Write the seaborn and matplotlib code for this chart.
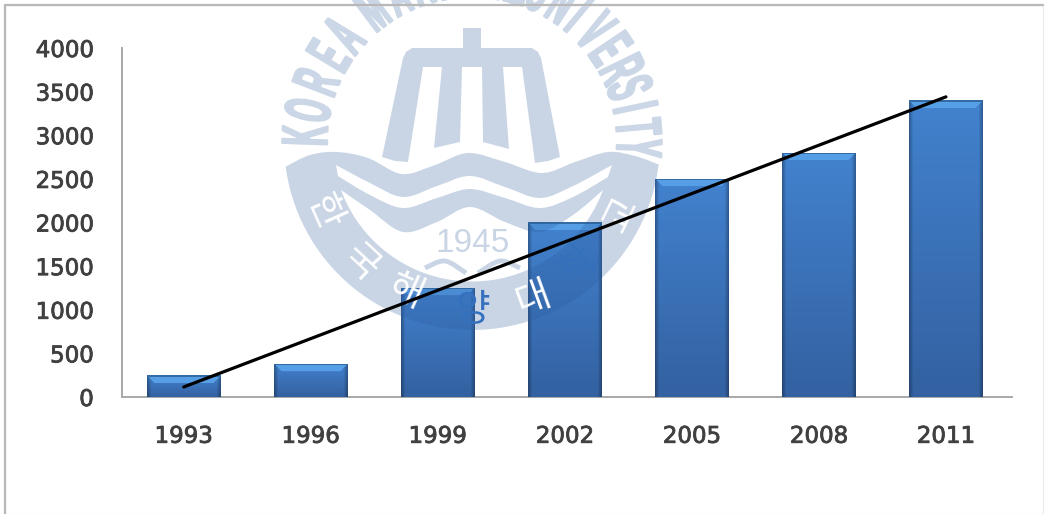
import numpy as np
import matplotlib
matplotlib.use("Agg")
import matplotlib.pyplot as plt
import matplotlib.patheffects as pe
import seaborn as sns
from matplotlib.patches import PathPatch, Rectangle
from matplotlib.path import Path
from matplotlib.transforms import Affine2D

years = ["1993", "1996", "1999", "2002", "2005", "2008", "2011"]
values = [250, 380, 1250, 2005, 2500, 2800, 3400]
y_ticks = [0, 500, 1000, 1500, 2000, 2500, 3000, 3500, 4000]
trend_pos = [0, 6]
trend_val = [115, 3440]

W, H = 1048, 514
LABEL = "#404040"
SEAL = "#2a5a9a"
SEAL_ALPHA = 0.25
SEAL_FLAT = "#cbd6e6"
CX, CY = 472, 142


class Squeeze(pe.AbstractPathEffect):
    # stretches a glyph around its own centre, the seal lettering is tall, narrow and heavy
    def __init__(self, sx, sy, lw):
        super().__init__()
        self.sx, self.sy, self.lw = sx, sy, lw

    def draw_path(self, renderer, gc, tpath, affine, rgbFace=None):
        c = tpath.get_extents().get_points().mean(axis=0)
        t = Affine2D().translate(-c[0], -c[1]).scale(self.sx, self.sy).translate(c[0], c[1])
        gc0 = renderer.new_gc()
        gc0.copy_properties(gc)
        gc0.set_linewidth(self.lw)
        gc0.set_foreground(rgbFace)
        renderer.draw_path(gc0, tpath, t + affine, rgbFace)
        gc0.restore()


def smooth(pts, start=True):
    # catmull-rom through all the points
    p = np.array(pts, dtype=float)
    p = np.vstack([p[0], p, p[-1]])
    verts = [tuple(p[1])]
    codes = [Path.MOVETO if start else Path.LINETO]
    for i in range(1, len(p) - 2):
        verts += [tuple(p[i] + (p[i + 1] - p[i - 1]) / 6), tuple(p[i + 1] - (p[i + 2] - p[i]) / 6), tuple(p[i + 1])]
        codes += [Path.CURVE4] * 3
    return verts, codes


def arc(r, a0, a1, n=60):
    t = np.radians(np.linspace(a0, a1, n))
    return [(CX + r * np.cos(a), CY + r * np.sin(a)) for a in t]


def bar_image(w, h):
    yy, xx = np.mgrid[0:h, 0:w]
    frac = yy[..., None] / max(h - 1, 1)
    top = np.array([0.26, 0.51, 0.81])
    bottom = np.array([0.20, 0.38, 0.63])
    img = top + (bottom - top) * frac
    side = np.minimum(xx, w - 1 - xx)[..., None]
    img = img * (0.72 + 0.28 * np.clip(side / 4, 0, 1))
    bevel = (yy < 8) & (xx >= yy) & (xx < w - yy)
    img[bevel] = np.array([0.34, 0.62, 0.90])
    img[yy < 2] = np.array([0.20, 0.42, 0.65])
    return img


sns.set_theme(style="white")
plt.rcParams["font.family"] = ["DejaVu Sans"]
fig = plt.figure(figsize=(W / 100, H / 100), dpi=100)
ax = fig.add_axes([121.5 / W, (H - 397) / H, (1012 - 121.5) / W, (397 - 48) / H])

sns.barplot(x=years, y=values, color="#3b78c4", width=0.575, saturation=1, ax=ax, zorder=2)
ax.set_xlim(-0.49, 6.52)
ax.set_ylim(0, 4000)

# bevelled fill for every bar, taken from the patches seaborn drew
fig.canvas.draw()
for p in ax.patches:
    x0, y0 = p.get_x(), p.get_y()
    x1, y1 = x0 + p.get_width(), y0 + p.get_height()
    (px0, py0), (px1, py1) = ax.transData.transform([(x0, y0), (x1, y1)])
    im = ax.imshow(bar_image(int(round(px1 - px0)), int(round(py1 - py0))),
                   extent=(x0, x1, y0, y1), aspect="auto", zorder=3)
    im.set_clip_path(p)
ax.set_xlim(-0.49, 6.52)
ax.set_ylim(0, 4000)

ax.plot(trend_pos, trend_val, color="black", lw=2.3, solid_capstyle="round", zorder=6)

ax.set_yticks(y_ticks)
ax.tick_params(axis="both", length=0, labelsize=16.5, labelcolor=LABEL)
ax.tick_params(axis="y", pad=20)
ax.tick_params(axis="x", pad=20)
ax.set_xlabel("")
ax.set_ylabel("")
for lab in ax.get_xticklabels() + ax.get_yticklabels():
    lab.set_path_effects([pe.withStroke(linewidth=0.6, foreground=LABEL)])
for name in ["top", "right"]:
    ax.spines[name].set_visible(False)
for name in ["left", "bottom"]:
    ax.spines[name].set_color("#a8a8a8")
    ax.spines[name].set_linewidth(1.4)

# seal watermark, in picture pixels with y going down
px = Affine2D().scale(1, -1).translate(0, H)

tower = [(463, 28), (481, 28), (481, 48), (532, 48), (538, 52), (541, 58), (560, 157), (548, 161),
         (535, 163), (522, 67), (503, 67), (509, 149), (483, 142), (482, 67), (462, 67), (460, 142),
         (434, 148), (442, 67), (423, 67), (408, 162), (395, 161), (382, 157), (403, 58), (406, 52),
         (412, 48), (463, 48), (463, 28)]
ax.add_patch(PathPatch(Path(tower), fc=SEAL, ec="none", alpha=SEAL_ALPHA, transform=px, clip_on=False, zorder=5))

wave_top = [(285, 167), (310, 155), (337, 152), (368, 158), (402, 174), (435, 165), (468, 153), (505, 162),
            (542, 173), (575, 162), (608, 152), (635, 156), (660, 165)]
white_top = [(336, 165), (370, 183), (403, 197), (437, 186), (470, 176), (505, 187), (540, 198), (573, 186), (612, 165)]
white_low = [(608, 177), (573, 197), (540, 208), (505, 198), (470, 189), (437, 198), (403, 208), (370, 195), (338, 176)]
inner_top = [(341, 190), (370, 210), (403, 232), (437, 222), (470, 207), (505, 222), (540, 232), (573, 215), (603, 190)]

# outline runs one way round, the white holes the other way
verts, codes = smooth(wave_top)
outer = arc(188, 7, 173)
verts += outer
codes += [Path.LINETO] * len(outer)

v, c = smooth(white_top[::-1])
verts += v
codes += c
v, c = smooth(white_low[::-1], start=False)
verts += v
codes += c

v, c = smooth(inner_top[::-1])
verts += v
codes += c
inner = arc(139.5, 160, 20)
verts += inner
codes += [Path.LINETO] * len(inner)
ax.add_patch(PathPatch(Path(verts, codes), fc=SEAL, ec="none", alpha=SEAL_ALPHA, transform=px, clip_on=False, zorder=5))

for book in ([(425, 268), (445, 261), (466, 273)], [(478, 273), (500, 261), (520, 268)]):
    v, c = smooth(book)
    ax.add_patch(PathPatch(Path(v, c), fc="none", ec=SEAL, lw=3.5, alpha=SEAL_ALPHA, transform=px, clip_on=False, zorder=5))

ax.text(473, 244, "1945", transform=px, ha="center", va="center", fontsize=24, family="Liberation Sans",
        color=SEAL, alpha=SEAL_ALPHA, zorder=5, clip_on=False)

name_letters = list("KOREAMARITIMEUNIVERSITY")
name_angles = [178, 169, 159, 149, 140, 127, 117, 108, 101, 94, 88, 80, 73, 66, 57, 50, 42, 34, 26, 19, 12, 5, -2]
for ch, a in zip(name_letters, name_angles):
    t = np.radians(a)
    ax.text(CX + 163 * np.cos(t), CY - 163 * np.sin(t), ch, transform=px, ha="center", va="center",
            rotation=a - 90, rotation_mode="anchor", fontsize=36, family="Liberation Sans", weight="bold",
            color=SEAL_FLAT, zorder=5, clip_on=False, path_effects=[Squeeze(0.55, 1.3, 1.6)])

kr_letters = ["한", "국", "해", "양", "대", "학", "교"]
kr_x = [323, 360, 405, 473, 533, 578, 621]
kr_y = [212, 263, 292, 311, 298, 265, 215]
kr_rot = [-66, -43, -24, 0, 20, 41, 64]
kr_col = ["white", "white", "white", "#3470bd", "white", "#3470bd", "white"]
for ch, x, y, r, col in zip(kr_letters, kr_x, kr_y, kr_rot, kr_col):
    ax.text(x, y, ch, transform=px, ha="center", va="center", rotation=r, rotation_mode="anchor",
            fontsize=27, family="Noto Sans CJK KR", color=col, zorder=5, clip_on=False)

# faint frame round the picture
fig.add_artist(Rectangle((5 / W, 0), (1043 - 5) / W, (H - 5) / H, fc="none", ec="#ececec", lw=1))
fig.add_artist(plt.Line2D([5 / W, 5 / W], [0, (H - 5) / H], color="#b8b8b8", lw=1.6))
fig.add_artist(plt.Line2D([5 / W, 1043 / W], [(H - 5) / H, (H - 5) / H], color="#b8b8b8", lw=1.6))

fig.savefig("out.png", dpi=100)
